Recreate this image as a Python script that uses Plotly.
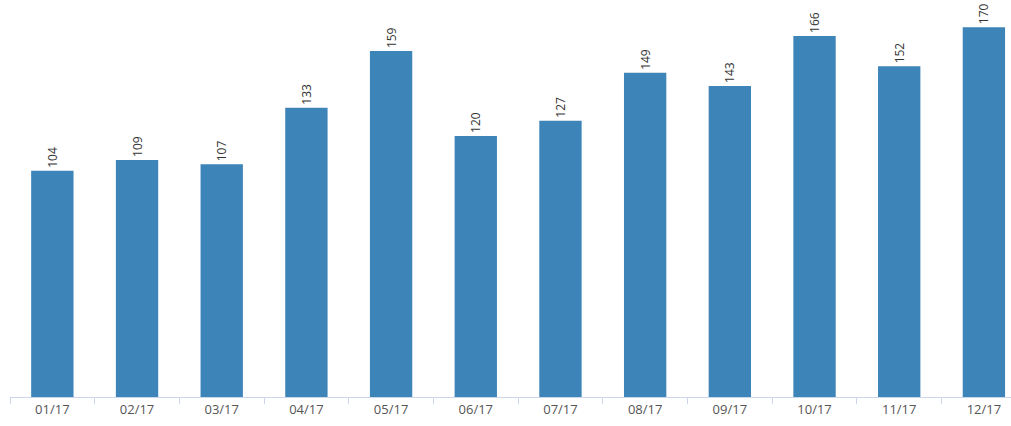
import plotly.graph_objects as go

categories = ["01/17", "02/17", "03/17", "04/17", "05/17", "06/17",
              "07/17", "08/17", "09/17", "10/17", "11/17", "12/17"]
values = [104, 109, 107, 133, 159, 120, 127, 149, 143, 166, 152, 170]

fig = go.Figure(go.Bar(
    x=categories, y=values,
    marker=dict(color="#3d84b8", line=dict(width=0)),
    width=0.5,
    text=[str(v) for v in values],
    textposition="outside",
    textangle=-90,
    textfont=dict(family="Open Sans, sans-serif", size=12, color="#333333"),
    cliponaxis=False,
    hoverinfo="skip",
))

fig.update_layout(
    width=1011, height=426,
    margin=dict(l=10, r=0, t=0, b=29),
    plot_bgcolor="white", paper_bgcolor="white",
    showlegend=False,
    xaxis=dict(
        type="category",
        range=[-0.5, 11.32],
        showline=True, linecolor="#ccd6eb", linewidth=1,
        ticks="outside", tickson="boundaries", ticklen=6, tickcolor="#ccd6eb",
        showgrid=False,
        tickfont=dict(family="Open Sans, sans-serif", size=13, color="#555555"),
    ),
    yaxis=dict(
        range=[0, 182.5],
        visible=False, showgrid=False, zeroline=False,
    ),
)

fig.write_html("out.html", config={"displayModeBar": False},
               post_script="document.body.style.margin='0';document.body.style.overflow='hidden';")
